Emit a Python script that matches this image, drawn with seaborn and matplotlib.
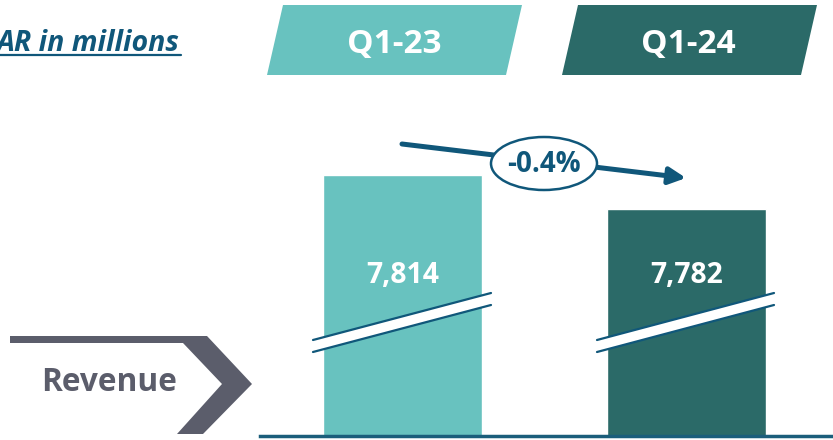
import matplotlib
matplotlib.use("Agg")
import matplotlib.pyplot as plt
import seaborn as sns
import pandas as pd
from matplotlib.patches import Polygon, Ellipse, FancyArrowPatch
from matplotlib import transforms

# ---- data ----
periods = ["Q1-23", "Q1-24"]
revenue = [7814, 7782]
value_labels = ["7,814", "7,782"]
change_label = "-0.4%"
unit_label = "AR in millions"
metric_label = "Revenue"

LIGHT = "#68C2BF"
DARK = "#2B6A68"
BLUE = "#10577A"
GRAY = "#5B5D6B"

sns.set_theme(style="white")
plt.rcParams["font.family"] = ["Open Sans", "DejaVu Sans"]

W, H = 833, 440
fig = plt.figure(figsize=(W / 100, H / 100), dpi=100)

# main bar axes (truncated value axis -> break marks)
ax = fig.add_axes([260 / W, 4 / H, 573 / W, 336 / H])
df = pd.DataFrame({"period": periods, "revenue": revenue})
sns.barplot(data=df, x="period", y="revenue", hue="period",
            palette=[LIGHT, DARK], width=0.56, legend=False, ax=ax,
            saturation=1)
ax.set_ylim(7568, 7884.7)
ax.set_xlim(-0.503, 1.518)
for s in ["top", "left", "right"]:
    ax.spines[s].set_visible(False)
ax.spines["bottom"].set_color("#1B5E7B")
ax.spines["bottom"].set_linewidth(2.5)
ax.set_xticks([])
ax.set_yticks([])
ax.set_xlabel("")
ax.set_ylabel("")

# value labels
trans = transforms.blended_transform_factory(ax.transData, ax.transAxes)
for i, lab in enumerate(value_labels):
    ax.text(i, (436 - 283) / 336, lab, transform=trans, ha="center",
            va="baseline", color="white", fontsize=20.3, fontweight="bold")

# overlay in pixel coordinates for decorations
ov = fig.add_axes([0, 0, 1, 1])
ov.set_xlim(0, W)
ov.set_ylim(H, 0)
ov.axis("off")
ov.patch.set_alpha(0)

# header parallelograms
ov.add_patch(Polygon([(283, 5), (522, 5), (506, 75), (267, 75)],
                     closed=True, color=LIGHT, lw=0))
ov.add_patch(Polygon([(578, 5), (817, 5), (801, 75), (562, 75)],
                     closed=True, color=DARK, lw=0))
ov.text(394, 53, periods[0], ha="center", va="baseline", color="white",
        fontsize=24, fontweight="bold")
ov.text(688, 53, periods[1], ha="center", va="baseline", color="white",
        fontsize=24, fontweight="bold")

# unit label
ov.text(-3, 51, unit_label, ha="left", va="baseline", color=BLUE,
        fontsize=20.5, fontweight="bold", fontstyle="italic")
ov.plot([0, 181], [55.5, 55.5], color=BLUE, lw=1.6)

# break marks
for x0, x1 in [(313, 491), (597, 774)]:
    ov.add_patch(Polygon([(x0, 340), (x1, 293), (x1, 305), (x0, 352)],
                         closed=True, color="white", lw=0))
    ov.plot([x0, x1], [340, 293], color=BLUE, lw=1.6)
    ov.plot([x0, x1], [352, 305], color=BLUE, lw=1.6)

# change arrow
arr = FancyArrowPatch((402, 144), (686, 178),
                      arrowstyle="-|>,head_length=10,head_width=5",
                      mutation_scale=1, color=BLUE, lw=3.6,
                      shrinkA=0, shrinkB=0)
ov.add_patch(arr)
ov.add_patch(Ellipse((544, 163.5), 106, 53, facecolor="white", edgecolor=BLUE, lw=1.8))
ov.text(544, 172, change_label, ha="center", va="baseline", color=BLUE,
        fontsize=20, fontweight="bold")

# revenue chevron
ov.add_patch(Polygon([(10, 336), (207, 336), (252, 384), (203, 434), (177, 434),
                      (222, 384), (183, 343), (10, 343)],
                     closed=True, color=GRAY, lw=0))
ov.text(109, 391, metric_label, ha="center", va="baseline", color=GRAY,
        fontsize=22.8, fontweight="bold")

fig.savefig("out.png", dpi=100)
